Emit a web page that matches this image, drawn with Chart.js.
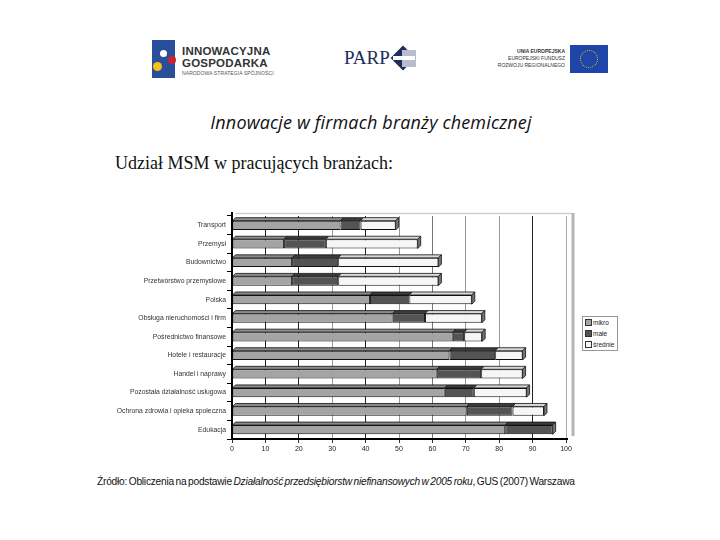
<!DOCTYPE html>
<html><head><meta charset="utf-8">
<script src="https://cdn.jsdelivr.net/npm/chart.js@4.4.1/dist/chart.umd.min.js"></script>
<style>
html,body{margin:0;padding:0;background:#fff;width:720px;height:540px;overflow:hidden;font-family:"Liberation Sans",Arial,sans-serif;}
.abs{position:absolute;}
#title{left:0;width:742px;top:110px;text-align:center;font-style:italic;font-size:18px;color:#111;font-family:"Open Sans",sans-serif;letter-spacing:0.15px;}
#sub{left:115px;top:153px;font-family:"Liberation Serif","Times New Roman",serif;font-size:18px;color:#111;}
#src{left:97px;top:476px;font-size:10.2px;color:#111;letter-spacing:-0.23px;word-spacing:-1px;}
#wrap{left:100px;top:205px;width:540px;height:260px;}
#legend{left:582px;top:316px;width:36px;height:35px;border:1px solid #999;background:#fff;font-size:6.5px;color:#222;padding-top:1px;box-sizing:border-box;}
#legend div{height:10.8px;line-height:10.8px;white-space:nowrap;padding-left:2px;}
#legend span.sw{display:inline-block;width:5px;height:5px;border:1px solid #333;margin-right:1px;vertical-align:-1px;}
</style></head>
<body>
<!-- logos -->
<div class="abs" style="left:152px;top:40px;width:23px;height:38px;background:#2a4f9a;"></div>
<div class="abs" style="left:160px;top:50px;width:7px;height:7px;background:#fff;border-radius:50%;"></div>
<div class="abs" style="left:168px;top:56px;width:8px;height:8px;background:#d0202a;border-radius:50%;"></div>
<div class="abs" style="left:153px;top:62px;width:9px;height:9px;background:#f3c318;border-radius:50%;"></div>
<div class="abs" style="left:182px;top:45px;font-size:11.5px;font-weight:bold;color:#333;line-height:12px;letter-spacing:0.2px;">INNOWACYJNA<br>GOSPODARKA</div>
<div class="abs" style="left:182px;top:70px;font-size:5px;color:#555;letter-spacing:0.1px;">NARODOWA STRATEGIA SPÓJNOŚCI</div>
<div class="abs" style="left:344px;top:47px;font-family:'Liberation Serif',serif;font-size:19px;color:#1d2e5a;">PARP</div>
<div class="abs" style="left:392px;top:47px;width:22px;height:22px;background:#1d2e5a;transform:rotate(45deg) scale(0.8);"></div>
<div class="abs" style="left:402px;top:50px;width:14px;height:17px;background:#b8bccb;"></div>
<div class="abs" style="left:393px;top:56px;width:22px;height:4px;background:#fff;"></div>
<div class="abs" style="left:480px;top:48px;width:85px;text-align:right;font-size:5px;line-height:7px;color:#333;"><b>UNIA EUROPEJSKA</b><br>EUROPEJSKI FUNDUSZ<br>ROZWOJU REGIONALNEGO</div>
<div class="abs" style="left:570px;top:45px;width:38px;height:28px;background:#1f45a8;"></div>
<div class="abs" style="left:580px;top:50px;width:16px;height:16px;border:1.5px dotted #f5d000;border-radius:50%;"></div>

<div id="title" class="abs">Innowacje w firmach branży chemicznej</div>
<div id="sub" class="abs">Udział MSM w pracujących branżach:</div>
<div id="wrap" class="abs"><canvas id="c" width="540" height="260"></canvas></div>
<div id="legend" class="abs"></div>
<div id="src" class="abs">Źródło: Obliczenia na podstawie <i>Działalność przedsiębiorstw niefinansowych w 2005 roku</i>, GUS (2007) Warszawa</div>

<script>
const categories = ["Transport","Przemysł","Budownictwo","Przetwórstwo przemysłowe","Polska","Obsługa nieruchomości i firm","Pośrednictwo finansowe","Hotele i restauracje","Handel i naprawy","Pozostała działalność usługowa","Ochrona zdrowia i opieka społeczna","Edukacja"];
const seriesNames = ["mikro","małe","średnie"];
const mikro   = [32.5, 15.6, 18.0, 18.0, 41.3, 48.1, 66.1, 65.1, 61.3, 63.7, 70.3, 81.8];
const male    = [ 6.0, 12.5, 13.8, 13.8, 11.8,  9.7,  3.4, 13.7, 13.3,  8.7, 13.7, 14.2];
const srednie = [10.5, 27.5, 30.0, 30.0, 18.7, 17.0,  5.4,  8.2, 12.4, 15.8,  9.4,  0.0];
const xTicks  = [0,10,20,30,40,50,60,70,80,90,100];
const colors  = ["#a4a4a4","#545454","#f6f6f6"];
const topColors = ["#8a8a8a","#3c3c3c","#d8d8d8"];
const gridColors = ["#222","#222","#222","#999","#222","#999","#777","#999","#999","#222","#aaa"];

const frame = {
  id:'frame',
  beforeDatasetsDraw(chart){
    const {ctx, chartArea:a} = chart;
    ctx.save();
    ctx.strokeStyle='#cfcfcf'; ctx.lineWidth=1.5;
    ctx.beginPath(); ctx.moveTo(a.left+3, a.top-2.5); ctx.lineTo(a.right+6, a.top-2.5); ctx.stroke();
    ctx.strokeStyle='#b5b5b5'; ctx.lineWidth=3;
    ctx.beginPath(); ctx.moveTo(a.right+7, a.top-3); ctx.lineTo(a.right+7, a.bottom-3); ctx.stroke();
    ctx.restore();
  },
  afterDatasetsDraw(chart){
    const {ctx, chartArea:a} = chart;
    const d = 3;
    ctx.save();
    ctx.lineWidth = 0.8; ctx.strokeStyle = '#111';
    const n = chart.data.labels.length;
    for (let i=0;i<n;i++){
      let last = null;
      chart.data.datasets.forEach((ds,di)=>{
        const el = chart.getDatasetMeta(di).data[i];
        if (!el || ds.data[i] <= 0) return;
        const top = el.y - el.height/2;
        const x0 = Math.min(el.x, el.base), x1 = Math.max(el.x, el.base);
        ctx.fillStyle = topColors[di];
        ctx.beginPath();
        ctx.moveTo(x0, top); ctx.lineTo(x0+d, top-d); ctx.lineTo(x1+d, top-d); ctx.lineTo(x1, top); ctx.closePath();
        ctx.fill(); ctx.stroke();
        last = {el, di, top, x1};
      });
      if (last){
        const bot = last.top + last.el.height;
        ctx.fillStyle = '#777';
        ctx.beginPath();
        ctx.moveTo(last.x1, last.top); ctx.lineTo(last.x1+d, last.top-d); ctx.lineTo(last.x1+d, bot-d); ctx.lineTo(last.x1, bot); ctx.closePath();
        ctx.fill(); ctx.stroke();
      }
    }
    ctx.strokeStyle='#000'; ctx.lineWidth=2;
    ctx.beginPath(); ctx.moveTo(a.left, a.top-4); ctx.lineTo(a.left, a.bottom); ctx.lineTo(a.right+2, a.bottom); ctx.stroke();
    ctx.restore();
  }
};

const legend = document.getElementById('legend');
seriesNames.forEach((n,i)=>{
  const d=document.createElement('div');
  d.innerHTML='<span class="sw" style="background:'+colors[i]+'"></span>'+n;
  legend.appendChild(d);
});

new Chart(document.getElementById('c'), {
  type:'bar',
  data:{
    labels:categories,
    datasets:[mikro,male,srednie].map((d,i)=>({
      label:seriesNames[i], data:d, backgroundColor:colors[i],
      borderColor:'#111', borderWidth:1, borderSkipped:false,
      barPercentage:0.5, categoryPercentage:1
    }))
  },
  options:{
    indexAxis:'y', responsive:false, animation:false,
    layout:{padding:{left:0,top:11,right:74,bottom:0}},
    plugins:{legend:{display:false}, tooltip:{enabled:false}},
    scales:{
      x:{
        stacked:true, min:0, max:100,
        afterBuildTicks(s){ s.ticks = xTicks.map(v=>({value:v})); },
        afterFit(s){ s.height=26; },
        border:{display:false},
        grid:{color:(c)=>gridColors[c.index]||'#999', lineWidth:1, tickLength:4, drawTicks:true, tickColor:'#333', offset:false},
        ticks:{font:{size:7,family:'Liberation Sans'}, color:'#222', padding:2, maxRotation:0}
      },
      y:{
        stacked:true,
        afterFit(s){ s.width=132; },
        border:{display:false},
        grid:{drawOnChartArea:false, offset:true, tickLength:5, tickColor:'#000', lineWidth:1},
        ticks:{font:{size:6.8,family:'Liberation Sans'}, color:'#333', padding:1, autoSkip:false}
      }
    }
  },
  plugins:[frame]
});
</script>
</body></html>
